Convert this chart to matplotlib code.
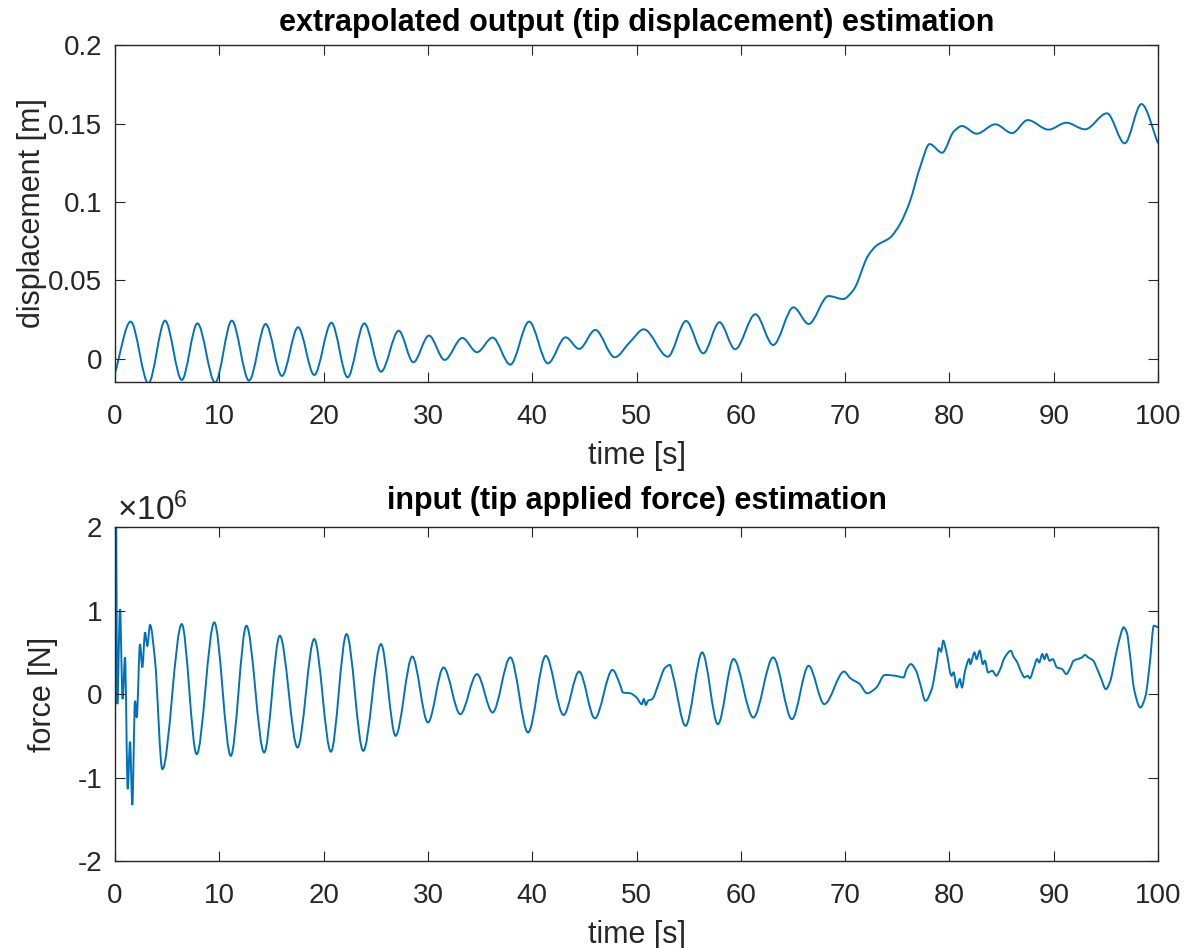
import matplotlib
matplotlib.use('Agg')
import matplotlib.pyplot as plt  # Plotting
import numpy as np  # Arrays
from matplotlib.path import Path
from matplotlib.patches import PathPatch
from matplotlib.ticker import FuncFormatter

plt.rcParams['font.family'] = ['Liberation Sans', 'DejaVu Sans']
plt.rcParams['mathtext.fontset'] = 'custom'
plt.rcParams['mathtext.rm'] = 'Liberation Sans'
plt.rcParams['mathtext.it'] = 'Liberation Sans:italic'
plt.rcParams['axes.unicode_minus'] = False

# Tip displacement (turning points) [s], [m]
disp_time = [0, 1.5, 3.2, 4.8, 6.4, 7.9, 9.6, 11.2, 12.85, 14.45, 16.0, 17.55,
             19.1, 20.75, 22.3, 23.9, 25.5, 27.2, 28.6, 30.1, 31.6, 33.3, 34.7,
             36.2, 37.9, 39.7, 41.5, 43.2, 44.5, 46.05, 47.9, 49.4, 50.7, 53.0,
             54.75, 56.4, 57.95, 59.45, 61.4, 63.1, 65.05, 66.5, 68.4, 69.8,
             70.8, 72.2, 73.0, 74.3, 75.3, 76.2, 77.2, 78.1, 79.3, 80.4, 81.2,
             82.6, 84.4, 86.0, 87.5, 89.5, 91.2, 93.0, 95.1, 96.8, 98.4, 100]
disp_value = [-0.0089, 0.0238, -0.0155, 0.0244, -0.0134, 0.0227, -0.0151, 0.0244,
              -0.0138, 0.0223, -0.0108, 0.0202, -0.0102, 0.0231, -0.0117, 0.0227,
              -0.0081, 0.0180, -0.0021, 0.0149, -0.0006, 0.0134, 0.0043, 0.0136,
              -0.0036, 0.0238, -0.0028, 0.0138, 0.0064, 0.0185, 0.0011, 0.0110,
              0.0189, 0.0015, 0.0242, 0.0036, 0.0234, 0.0062, 0.0285, 0.0089,
              0.0329, 0.0223, 0.0401, 0.0382, 0.0440, 0.0658, 0.0722, 0.0773,
              0.0864, 0.1002, 0.1225, 0.1369, 0.1314, 0.1448, 0.1484, 0.1435,
              0.1495, 0.1439, 0.1522, 0.1461, 0.1505, 0.1463, 0.1565, 0.1374,
              0.1624, 0.1374]

# Tip force [s], [x 1e6 N]
force_time = [0, 0.08, 0.22, 0.48, 0.73, 0.96, 1.22, 1.44, 1.66, 1.92, 2.08, 2.4,
              2.62, 2.88, 3.1, 3.36, 3.84, 4.54, 6.4, 7.83, 9.52, 11.1, 12.6,
              14.3, 15.8, 17.5, 19.1, 20.7, 22.2, 23.8, 25.5, 26.9, 28.5, 30.0,
              31.5, 33.1, 34.7, 36.2, 37.9, 39.6, 41.3, 43.0, 44.5, 46.0, 47.7,
              48.4, 48.7, 49.4, 50.0, 50.5, 50.7, 50.9, 51.1, 51.5, 52.1, 52.7,
              53.2, 53.5, 54.7, 56.3, 57.8, 59.3, 61.2, 63.1, 64.9, 66.5, 68.0,
              69.9, 70.5, 71.4, 72.1, 73.0, 73.8, 74.8, 75.6, 75.9, 76.3, 76.8,
              77.2, 77.7, 78.3, 78.8, 79.0, 79.2, 79.4, 79.7, 80.2, 80.4, 80.7,
              81.0, 81.2, 81.5, 81.9, 82.0, 82.4, 82.6, 82.9, 83.2, 83.4, 83.7,
              84.1, 84.5, 84.8, 85.3, 85.9, 86.1, 86.5, 86.9, 87.2, 87.5, 87.7,
              88.1, 88.4, 88.6, 88.9, 89.1, 89.3, 89.6, 89.9, 90.3, 90.8, 91.2,
              91.6, 91.9, 92.3, 92.7, 93.0, 93.3, 93.8, 94.1, 94.5, 95.0, 95.4,
              95.9, 96.3, 96.7, 97.0, 97.3, 97.7, 98.3, 98.8, 99.2, 99.6, 100]
force_mega = [-0.62, 2.5, -0.12, 1.02, -0.06, 0.44, -1.14, -0.57, -1.33, -0.08,
              -0.28, 0.60, 0.32, 0.74, 0.58, 0.83, 0.40, -0.90, 0.84, -0.72, 0.86,
              -0.74, 0.82, -0.70, 0.70, -0.64, 0.66, -0.69, 0.72, -0.68, 0.60,
              -0.50, 0.45, -0.34, 0.32, -0.24, 0.24, -0.22, 0.44, -0.46, 0.46,
              -0.25, 0.27, -0.29, 0.29, 0.12, 0.02, 0.01, -0.04, -0.12, -0.06,
              -0.13, -0.08, -0.06, 0.12, 0.31, 0.35, 0.22, -0.38, 0.50, -0.36,
              0.42, -0.28, 0.44, -0.30, 0.34, -0.12, 0.27, 0.19, 0.12, 0.01, 0.08,
              0.23, 0.22, 0.20, 0.30, 0.36, 0.28, 0.12, -0.08, 0.06, 0.40, 0.55,
              0.51, 0.64, 0.51, 0.22, 0.26, 0.08, 0.18, 0.08, 0.28, 0.42, 0.36,
              0.50, 0.42, 0.52, 0.36, 0.40, 0.26, 0.28, 0.22, 0.28, 0.44, 0.52,
              0.46, 0.38, 0.26, 0.20, 0.22, 0.19, 0.32, 0.42, 0.38, 0.48, 0.42,
              0.48, 0.40, 0.42, 0.32, 0.30, 0.24, 0.32, 0.40, 0.42, 0.44, 0.47,
              0.44, 0.40, 0.32, 0.20, 0.06, 0.15, 0.44, 0.66, 0.80, 0.74, 0.48,
              0.06, -0.16, -0.02, 0.36, 0.82, 0.80]

LINE = '#0072BD'
DARK = '#262626'


def smooth_path(x, y):
    # Bezier path through the read points, flat at turning points
    x = np.asarray(x, float)
    y = np.asarray(y, float)
    h = np.diff(x)
    d = np.diff(y) / h
    m = np.zeros_like(y)
    m[0], m[-1] = d[0], d[-1]
    for i in range(1, len(x) - 1):
        if d[i - 1] * d[i] > 0:
            w1 = 2 * h[i] + h[i - 1]
            w2 = h[i] + 2 * h[i - 1]
            m[i] = (w1 + w2) / (w1 / d[i - 1] + w2 / d[i])
    verts = [(x[0], y[0])]
    codes = [Path.MOVETO]
    for i in range(len(x) - 1):
        verts += [(x[i] + h[i] / 3, y[i] + m[i] * h[i] / 3),
                  (x[i + 1] - h[i] / 3, y[i + 1] - m[i + 1] * h[i] / 3),
                  (x[i + 1], y[i + 1])]
        codes += [Path.CURVE4] * 3
    return Path(verts, codes)


def style(ax):
    ax.tick_params(direction='in', length=7, width=0.8, top=True, right=True,
                   labelsize=20, colors=DARK)
    ax.tick_params(axis='x', pad=16)
    ax.tick_params(axis='y', pad=9)
    for sp in ax.spines.values():
        sp.set_color(DARK)
        sp.set_linewidth(1.0)
    ax.set_xlim(0, 100)
    ax.set_xticks(np.arange(0, 101, 10))
    ax.set_xlabel('time [s]', fontsize=22, color=DARK, labelpad=8)


fig = plt.figure(figsize=(11.88, 9.48), dpi=100)

# Top: displacement
ax1 = fig.add_axes([0.0968, 0.597, 0.878, 0.3555])
ax1.add_patch(PathPatch(smooth_path(disp_time, disp_value), fill=False,
                        edgecolor=LINE, lw=1.4))
style(ax1)
ax1.set_ylim(-0.0147, 0.2)
ax1.set_yticks([0, 0.05, 0.1, 0.15, 0.2])
ax1.yaxis.set_major_formatter(FuncFormatter(lambda v, p: '%g' % v))
ax1.set_ylabel('displacement [m]', fontsize=22, color=DARK, labelpad=1)
ax1.set_title('extrapolated output (tip displacement) estimation',
              fontsize=22, fontweight='bold', pad=10)

# Bottom: force (plotted in units of 1e6 N)
ax2 = fig.add_axes([0.0968, 0.0918, 0.878, 0.352])
ax2.add_patch(PathPatch(smooth_path(force_time, force_mega),
                        fill=False, edgecolor=LINE, lw=1.4))
style(ax2)
ax2.set_ylim(-2, 2)
ax2.set_yticks([-2, -1, 0, 1, 2])
ax2.yaxis.set_major_formatter(FuncFormatter(lambda v, p: '%g' % v))
ax2.text(0.002, 1.0, r'$\times10^{6}$', transform=ax2.transAxes,
         fontsize=24, color=DARK, ha='left', va='bottom')
ax2.set_ylabel('force [N]', fontsize=22, color=DARK, labelpad=14)
ax2.set_title('input (tip applied force) estimation',
              fontsize=22, fontweight='bold', pad=13)

fig.savefig('out.png', dpi=100)
plt.close()
